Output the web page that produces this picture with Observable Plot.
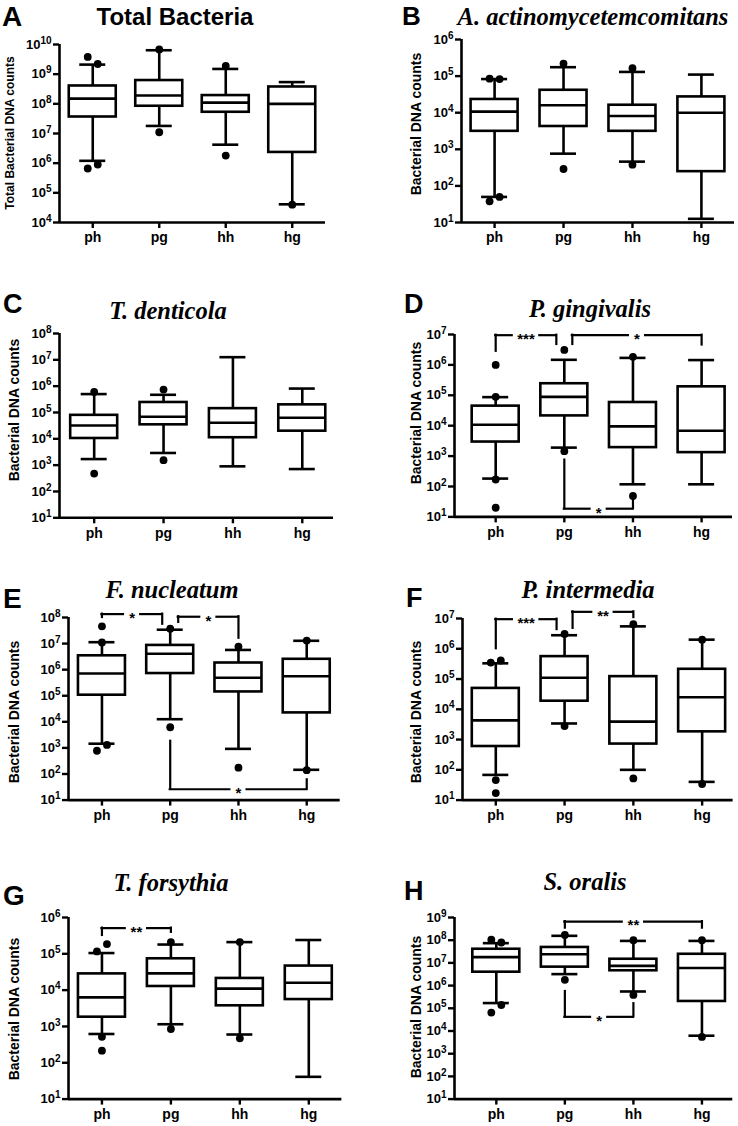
<!DOCTYPE html>
<html><head><meta charset="utf-8">
<script src="https://cdn.jsdelivr.net/npm/d3@7"></script>
<script src="https://cdn.jsdelivr.net/npm/@observablehq/plot@0.6"></script>
<style>
body{margin:0;background:#fff;}
#fig{position:relative;width:738px;height:1126px;overflow:hidden;background:#fff;}
#fig .panel{position:absolute;}
#overlay{position:absolute;left:0;top:0;pointer-events:none;}
</style></head><body><div id="fig"></div>
<script>
// ---------------- DATA ----------------
const groups = ["ph", "pg", "hh", "hg"];
// each box: [lower whisker, Q1, median, Q3, upper whisker] in order of groups
const totalBacteriaBoxes = [[1.2e6, 3.6e7, 1.5e8, 4.0e8, 2.1e9],[1.8e7, 8.3e7, 1.9e8, 6.1e8, 6.4e9],[4.2e6, 5.2e7, 1.1e8, 1.9e8, 1.5e9],[4.1e4, 2.3e6, 1.0e8, 3.7e8, 5.4e8]];
const totalBacteriaOutliers = [{group:"ph",value:3.8e9,side:-1},{group:"ph",value:2.2e9,side:1},{group:"ph",value:6.6e5,side:-1},{group:"ph",value:9e5,side:1},{group:"pg",value:6.8e9,side:0},{group:"pg",value:1.1e7,side:0},{group:"hh",value:1.9e9,side:0},{group:"hh",value:1.8e6,side:0},{group:"hg",value:4e4,side:0}];
const totalBacteriaBrackets = [];

const aActinoBoxes = [[50, 3.1e3, 1.07e4, 2.3e4, 8.3e4],[760, 4.2e3, 1.6e4, 4.1e4, 1.75e5],[460, 3.1e3, 8.1e3, 1.6e4, 1.3e5],[12.6, 245, 1.0e4, 2.7e4, 1.1e5]];
const aActinoOutliers = [{group:"ph",value:8.5e4,side:-1},{group:"ph",value:8.3e4,side:1},{group:"ph",value:38,side:-1},{group:"ph",value:50,side:1},{group:"pg",value:2.2e5,side:0},{group:"pg",value:290,side:0},{group:"hh",value:1.65e5,side:0},{group:"hh",value:380,side:0}];
const aActinoBrackets = [];

const tDenticolaBoxes = [[1.7e3, 1.03e4, 3.2e4, 7.8e4, 5.0e5],[2.9e3, 3.4e4, 6.9e4, 2.4e5, 4.7e5],[900, 1.1e4, 4.1e4, 1.4e5, 1.26e7],[710, 1.95e4, 6.3e4, 1.95e5, 8.1e5]];
const tDenticolaOutliers = [{group:"ph",value:6e5,side:0},{group:"ph",value:480,side:0},{group:"pg",value:7.4e5,side:0},{group:"pg",value:1.55e3,side:0}];
const tDenticolaBrackets = [];

const pGingivalisBoxes = [[182, 2.9e3, 1.07e4, 4.4e4, 8.7e4],[1.9e3, 2.1e4, 8.9e4, 2.4e5, 1.47e6],[118, 1.9e3, 9.5e3, 5.8e4, 1.7e6],[118, 1.3e3, 6.8e3, 1.9e5, 1.44e6]];
const pGingivalisOutliers = [{group:"ph",value:1.0e6,side:0},{group:"ph",value:8.9e4,side:0},{group:"ph",value:170,side:0},{group:"ph",value:20,side:0},{group:"pg",value:3.1e6,side:0},{group:"pg",value:1.45e3,side:0},{group:"hh",value:1.85e6,side:0},{group:"hh",value:49,side:0}];
const pGingivalisBrackets = [
  {from:"ph",to:"pg",level:9.5e6,legFrom:2.8e6,legTo:4.7e6,label:"***",nudgeFrom:0,nudgeTo:-1},
  {from:"pg",to:"hg",level:9.5e6,legFrom:4.7e6,legTo:4.5e6,label:"*",nudgeFrom:1,nudgeTo:0},
  {from:"pg",to:"hh",level:18.6,legFrom:740,legTo:41,label:"*",nudgeFrom:0,nudgeTo:0}
];

const fNucleatumBoxes = [[1.45e3, 1.05e5, 7.1e5, 3.4e6, 1.13e7],[1.26e4, 7.1e5, 4.1e6, 8.5e6, 3.4e7],[920, 1.4e5, 4.9e5, 1.8e6, 5.7e6],[145, 2.2e4, 5.6e5, 2.5e6, 1.28e7]];
const fNucleatumOutliers = [{group:"ph",value:4.6e7,side:0},{group:"ph",value:1.1e7,side:0},{group:"ph",value:780,side:-1},{group:"ph",value:1.3e3,side:1},{group:"pg",value:3.7e7,side:0},{group:"pg",value:6.2e3,side:0},{group:"hh",value:7.7e6,side:0},{group:"hh",value:175,side:0},{group:"hg",value:1.3e7,side:0},{group:"hg",value:140,side:0}];
const fNucleatumBrackets = [
  {from:"ph",to:"pg",level:1.35e8,legFrom:1.0e8,legTo:5.5e7,label:"*",nudgeFrom:0,nudgeTo:-1},
  {from:"pg",to:"hh",level:1.07e8,legFrom:6.5e7,legTo:1.6e7,label:"*",nudgeFrom:1,nudgeTo:0},
  {from:"pg",to:"hg",level:26,legFrom:1.8e3,legTo:60,label:"*",nudgeFrom:0,nudgeTo:0}
];

const pIntermediaBoxes = [[68, 590, 4.3e3, 4.9e4, 3.3e5],[3.4e3, 1.85e4, 1.1e5, 5.5e5, 2.8e6],[100, 710, 3.9e3, 1.2e5, 5.5e6],[40, 1.8e3, 2.5e4, 2.1e5, 2.0e6]];
const pIntermediaOutliers = [{group:"ph",value:3.5e5,side:-1},{group:"ph",value:4.1e5,side:1},{group:"ph",value:46,side:0},{group:"ph",value:17,side:0},{group:"pg",value:3.1e6,side:0},{group:"pg",value:2.8e3,side:0},{group:"hh",value:6.5e6,side:0},{group:"hh",value:52,side:0},{group:"hg",value:2.0e6,side:0},{group:"hg",value:34,side:0}];
const pIntermediaBrackets = [
  {from:"ph",to:"pg",level:9.5e6,legFrom:1.0e6,legTo:4.3e6,label:"***",nudgeFrom:0,nudgeTo:-1},
  {from:"pg",to:"hh",level:1.66e7,legFrom:4.7e6,legTo:1.07e7,label:"**",nudgeFrom:1,nudgeTo:0}
];

const tForsythiaBoxes = [[620, 1.8e3, 6.3e3, 2.8e4, 1.05e5],[1.15e3, 1.26e4, 2.9e4, 7.3e4, 1.8e5],[600, 3.7e3, 1.1e4, 2.1e4, 2.1e5],[41, 5.5e3, 1.6e4, 4.6e4, 2.4e5]];
const tForsythiaOutliers = [{group:"ph",value:1.16e5,side:-1},{group:"ph",value:1.85e5,side:1},{group:"ph",value:520,side:0},{group:"ph",value:215,side:0},{group:"pg",value:2.1e5,side:0},{group:"pg",value:850,side:0},{group:"hh",value:2.1e5,side:0},{group:"hh",value:470,side:0}];
const tForsythiaBrackets = [
  {from:"ph",to:"pg",level:5.1e5,legFrom:3.2e5,legTo:3.9e5,label:"**",nudgeFrom:0,nudgeTo:0}
];

const sOralisBoxes = [[1.7e5, 3.9e6, 1.8e7, 4.0e7, 7.4e7],[3.2e6, 6.5e6, 2.4e7, 4.8e7, 1.56e8],[5.5e5, 4.5e6, 7.4e6, 1.45e7, 9.3e7],[6.2e3, 2.0e5, 6.0e6, 2.4e7, 9.3e7]];
const sOralisOutliers = [{group:"ph",value:1.05e8,side:-1},{group:"ph",value:7.9e7,side:1},{group:"ph",value:6.5e4,side:-1},{group:"ph",value:1.4e5,side:1},{group:"pg",value:1.7e8,side:0},{group:"pg",value:1.8e6,side:0},{group:"hh",value:1.0e8,side:0},{group:"hh",value:3.9e5,side:0},{group:"hg",value:1.0e8,side:0},{group:"hg",value:5.5e3,side:0}];
const sOralisBrackets = [
  {from:"pg",to:"hg",level:6.6e8,legFrom:3.4e8,legTo:3.4e8,label:"**",nudgeFrom:0,nudgeTo:0},
  {from:"pg",to:"hh",level:4.2e4,legFrom:5.5e5,legTo:1.6e5,label:"*",nudgeFrom:0,nudgeTo:0}
];

const panelLetters = ["A","B","C","D","E","F","G","H"];
const panelTitles = ["Total Bacteria","A. actinomycetemcomitans","T. denticola","P. gingivalis","F. nucleatum","P. intermedia","T. forsythia","S. oralis"];
const yLabels = ["Total Bacterial DNA counts","Bacterial DNA counts","Bacterial DNA counts","Bacterial DNA counts","Bacterial DNA counts","Bacterial DNA counts","Bacterial DNA counts","Bacterial DNA counts"];
const yDomains = [[1e4,1e10],[1e1,1e6],[1e1,1e8],[1e1,1e7],[1e1,1e8],[1e1,1e7],[1e1,1e6],[1e1,1e9]];

// ---------------- LAYOUT ----------------
const SANS = "'Liberation Sans', Arial, Helvetica, sans-serif";
const SERIF = "'Liberation Serif', 'Times New Roman', serif";
const layouts = [
  {axisX:59, axisRight:325, yTop:44.3, yBottom:222.3, xDomain:[-0.5,3.5], letter:[2,26,28], title:[175,25,24,false], ylab:[10,133,12]},
  {axisX:461, axisRight:734, yTop:39.3, yBottom:222.3, xDomain:[-0.48,3.48], letter:[402,25,26], title:[593,25,24.5,true], ylab:[416,124,14]},
  {axisX:59, axisRight:333, yTop:332.7, yBottom:517, xDomain:[-0.5,3.45], letter:[3,313,27], title:[168,319,24.5,true], ylab:[14,410,14]},
  {axisX:454, axisRight:732, yTop:334.3, yBottom:516.7, xDomain:[-0.6,3.45], letter:[404,313,27], title:[590,317,24.5,true], ylab:[416,413,14]},
  {axisX:68.3, axisRight:340, yTop:616.7, yBottom:799.3, xDomain:[-0.49,3.49], letter:[3,608,28], title:[172,597.5,24.5,true], ylab:[14,712,14]},
  {axisX:461.7, axisRight:732.3, yTop:617.7, yBottom:799.3, xDomain:[-0.484,3.45], letter:[406,607,27], title:[588,598,24.5,true], ylab:[416,712,14]},
  {axisX:68.3, axisRight:341.7, yTop:916.7, yBottom:1098.3, xDomain:[-0.485,3.48], letter:[3,905,28], title:[171,890.5,24.5,true], ylab:[14,1009,14]},
  {axisX:454, axisRight:732.3, yTop:916.7, yBottom:1098.3, xDomain:[-0.61,3.45], letter:[404,900,27], title:[585,890,24.5,true], ylab:[416,1007,14]}
];
const panelData = [
  [totalBacteriaBoxes, totalBacteriaOutliers, totalBacteriaBrackets],
  [aActinoBoxes, aActinoOutliers, aActinoBrackets],
  [tDenticolaBoxes, tDenticolaOutliers, tDenticolaBrackets],
  [pGingivalisBoxes, pGingivalisOutliers, pGingivalisBrackets],
  [fNucleatumBoxes, fNucleatumOutliers, fNucleatumBrackets],
  [pIntermediaBoxes, pIntermediaOutliers, pIntermediaBrackets],
  [tForsythiaBoxes, tForsythiaOutliers, tForsythiaBrackets],
  [sOralisBoxes, sOralisOutliers, sOralisBrackets]
];

const supMap = {"0":"⁰","1":"¹","2":"²","3":"³","4":"⁴","5":"⁵","6":"⁶","7":"⁷","8":"⁸","9":"⁹"};
const sup = d => "10" + String(Math.round(Math.log10(d))).split("").map(c => supMap[c]).join("");
const unsup = s => s.split("").map(c => { const k = Object.keys(supMap).find(key => supMap[key] === c); return k ?? c; }).join("");

const fig = document.getElementById("fig");
const mL = 60, mR = 8, mT = 18, mB = 34;
const SW = 2.6;
const NS = "http://www.w3.org/2000/svg";

layouts.forEach((L, k) => {
  const [boxes, outliers, brackets] = panelData[k];
  const yDomain = yDomains[k];
  const xDomain = L.xDomain;
  const pxPerUnit = (L.axisRight - L.axisX) / (xDomain[1] - xDomain[0]);
  const u = 1 / pxPerUnit;
  const boxHalf = 23.5 * u, capHalf = 13 * u, nudge = 8 * u, jitter = 5 * u;
  const stats = boxes.map((b, i) => ({i, lo: b[0], q1: b[1], med: b[2], q3: b[3], hi: b[4]}));
  const outs = outliers.map(o => ({x: groups.indexOf(o.group) + o.side * jitter, v: o.value}));
  const segs = [], legs = [], labels = [];
  for (const b of brackets) {
    const xa = groups.indexOf(b.from) + b.nudgeFrom * nudge;
    const xb = groups.indexOf(b.to) + b.nudgeTo * nudge;
    const xm = (xa + xb) / 2;
    const gap = (6 + 2.6 * b.label.length) * u;
    segs.push({x1: xa, x2: xm - gap, y: b.level}, {x1: xm + gap, x2: xb, y: b.level});
    legs.push({x: xa, y1: b.level, y2: b.legFrom}, {x: xb, y1: b.level, y2: b.legTo});
    labels.push({x: xm, y: b.level, text: b.label});
  }
  const e0 = Math.round(Math.log10(yDomain[0])), e1 = Math.round(Math.log10(yDomain[1]));
  const yTicks = d3.range(e0, e1 + 1).map(e => 10 ** e);
  const width = (L.axisRight - L.axisX) + mL + mR;
  const height = (L.yBottom - L.yTop) + mT + mB;

  const chart = Plot.plot({
    width, height, marginLeft: mL, marginRight: mR, marginTop: mT, marginBottom: mB,
    style: {fontFamily: SANS, background: "transparent", overflow: "visible", maxWidth: "none", color: "black"},
    x: {type: "linear", domain: xDomain},
    y: {type: "log", domain: yDomain},
    marks: [
      Plot.axisY({ticks: yTicks, tickFormat: sup, tickSize: 6, tickPadding: 2, strokeWidth: 2.4, fontSize: 13, fontWeight: "bold", label: null}),
      Plot.axisX({ticks: [0, 1, 2, 3], tickFormat: i => groups[i], tickSize: 6, tickPadding: 4, strokeWidth: 2.4, fontSize: 14, fontWeight: "bold", label: null}),
      Plot.ruleX(stats, {x: "i", y1: "lo", y2: "q1", strokeWidth: SW}),
      Plot.ruleX(stats, {x: "i", y1: "q3", y2: "hi", strokeWidth: SW}),
      Plot.ruleY(stats, {y: "lo", x1: d => d.i - capHalf, x2: d => d.i + capHalf, strokeWidth: SW}),
      Plot.ruleY(stats, {y: "hi", x1: d => d.i - capHalf, x2: d => d.i + capHalf, strokeWidth: SW}),
      Plot.rect(stats, {x1: d => d.i - boxHalf, x2: d => d.i + boxHalf, y1: "q1", y2: "q3", fill: "white", stroke: "black", strokeWidth: SW}),
      Plot.ruleY(stats, {y: "med", x1: d => d.i - boxHalf, x2: d => d.i + boxHalf, strokeWidth: SW}),
      Plot.dot(outs, {x: "x", y: "v", r: 3.9, fill: "black"}),
      Plot.ruleY(segs, {y: "y", x1: "x1", x2: "x2", strokeWidth: 2.2, strokeLinecap: "square"}),
      Plot.ruleX(legs, {x: "x", y1: "y1", y2: "y2", strokeWidth: 2.2, strokeLinecap: "square"}),
      Plot.text(labels, {x: "x", y: "y", text: "text", fontSize: 15, fontWeight: "bold", dy: 4}),
      Plot.ruleX([xDomain[0]], {strokeWidth: 2.6}),
      Plot.ruleY([yDomain[0]], {strokeWidth: 2.6})
    ]
  });
  // render the exponent of each y tick label as a raised tspan ("10" + superscript)
  chart.querySelectorAll('g[aria-label="y-axis tick label"] text').forEach(t => {
    const s = t.textContent;
    if (!s.startsWith("10")) return;
    const exp = unsup(s.slice(2));
    t.textContent = "";
    const base = document.createElementNS(NS, "tspan");
    base.textContent = "10";
    base.setAttribute("font-size", 13);
    const ex = document.createElementNS(NS, "tspan");
    ex.textContent = exp;
    ex.setAttribute("font-size", 10);
    ex.setAttribute("dy", -5);
    t.appendChild(base); t.appendChild(ex);
  });
  const div = document.createElement("div");
  div.className = "panel";
  div.style.left = (L.axisX - mL) + "px";
  div.style.top = (L.yTop - mT) + "px";
  div.appendChild(chart);
  fig.appendChild(div);
});

// overlay text: panel letters, titles, y-axis labels
const ov = document.createElementNS(NS, "svg");
ov.setAttribute("id", "overlay");
ov.setAttribute("width", 738);
ov.setAttribute("height", 1126);
function addText(x, y, str, attrs) {
  const t = document.createElementNS(NS, "text");
  t.setAttribute("x", x); t.setAttribute("y", y);
  for (const [k, v] of Object.entries(attrs)) t.setAttribute(k, v);
  t.textContent = str;
  ov.appendChild(t);
}
layouts.forEach((L, k) => {
  addText(L.letter[0], L.letter[1], panelLetters[k], {"font-family": SANS, "font-weight": "bold", "font-size": L.letter[2]});
  const [tx, ty, ts, serif] = L.title;
  addText(tx, ty, panelTitles[k], {"font-family": serif ? SERIF : SANS, "font-weight": "bold", "font-style": serif ? "italic" : "normal", "font-size": ts, "text-anchor": "middle"});
  const [lx, ly, ls] = L.ylab;
  addText(0, 0, yLabels[k], {"font-family": SANS, "font-weight": "bold", "font-size": ls, "text-anchor": "middle", "dominant-baseline": "central", transform: `translate(${lx},${ly}) rotate(-90)`});
});
fig.appendChild(ov);
</script>
</body></html>
